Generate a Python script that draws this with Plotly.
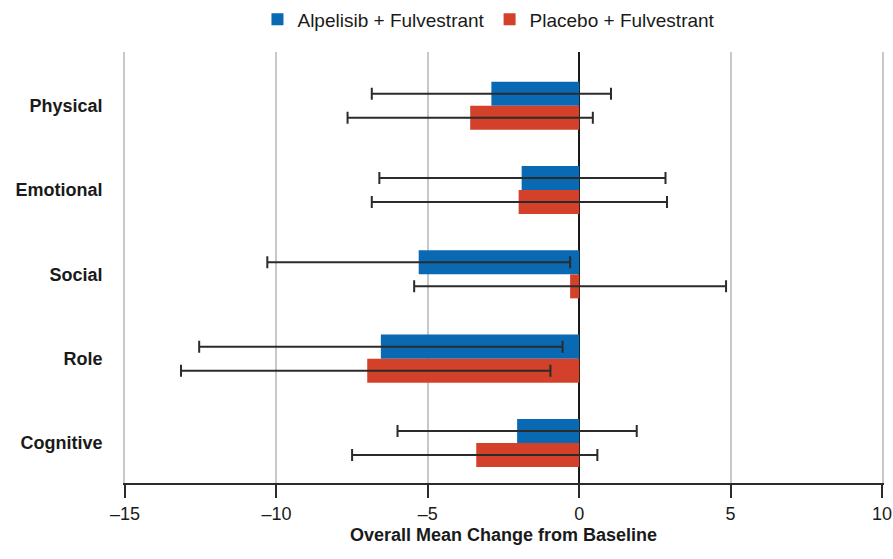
import plotly.graph_objects as go

# Quality-of-life domains (top to bottom)
categories = ["Physical", "Emotional", "Social", "Role", "Cognitive"]

# Alpelisib + Fulvestrant: mean change and 95% CI bounds
alp_mean = [-2.9, -1.9, -5.3, -6.55, -2.05]
alp_low = [-6.85, -6.6, -10.3, -12.55, -6.0]
alp_high = [1.05, 2.85, -0.3, -0.55, 1.9]

# Placebo + Fulvestrant: mean change and 95% CI bounds
pla_mean = [-3.6, -2.0, -0.3, -7.0, -3.4]
pla_low = [-7.65, -6.85, -5.45, -13.15, -7.5]
pla_high = [0.45, 2.9, 4.85, -0.95, 0.6]

x_tickvals = [-15, -10, -5, 0, 5, 10]
x_ticktext = ["\u201315", "\u201310", "\u20135", "0", "5", "10"]

BLUE = "#0a69b3"
RED = "#d4412a"
TEXT = "#1a1a1a"
GRID = "#c8c8cc"
FONT = "Liberation Sans, Arial, sans-serif"


def err(mean, low, high):
    return dict(
        type="data",
        symmetric=False,
        array=[h - m for m, h in zip(mean, high)],
        arrayminus=[m - l for m, l in zip(mean, low)],
        color="#2b2b2b",
        thickness=2,
        width=6,
    )


fig = go.Figure()
fig.add_trace(go.Bar(
    name="Alpelisib + Fulvestrant",
    y=categories, x=alp_mean, orientation="h",
    marker=dict(color=BLUE, line=dict(width=0)),
    error_x=err(alp_mean, alp_low, alp_high),
))
fig.add_trace(go.Bar(
    name="Placebo + Fulvestrant",
    y=categories, x=pla_mean, orientation="h",
    marker=dict(color=RED, line=dict(width=0)),
    error_x=err(pla_mean, pla_low, pla_high),
))

fig.update_layout(
    width=893, height=559,
    margin=dict(l=124.5, r=10.5, t=52, b=76.3, pad=0, autoexpand=False),
    paper_bgcolor="white", plot_bgcolor="white",
    barmode="group", bargap=0.43, bargroupgap=0,
    font=dict(family=FONT, color=TEXT, size=18),
    legend=dict(
        orientation="h",
        x=0.175, xanchor="left",
        y=1.0755, yanchor="middle",
        font=dict(size=19, color=TEXT),
        bgcolor="rgba(0,0,0,0)",
        itemclick=False,
    ),
    xaxis=dict(
        range=[-15, 10],
        tickvals=x_tickvals, ticktext=x_ticktext,
        showgrid=True, gridcolor=GRID, gridwidth=1.6,
        zeroline=True, zerolinecolor="#1a1a1a", zerolinewidth=2,
        showline=True, linecolor="#2b2b2b", linewidth=2,
        ticks="outside", ticklen=13, tickwidth=2, tickcolor="#2b2b2b",
        tickfont=dict(size=18, color=TEXT),
        title=dict(text="<b>Overall Mean Change from Baseline</b>",
                   font=dict(size=18, color=TEXT), standoff=6),
        automargin=False,
        fixedrange=True,
    ),
    yaxis=dict(
        categoryorder="array", categoryarray=categories,
        range=[4.475, -0.637],
        showgrid=False, zeroline=False,
        # grey edge lines at both ends of the x range (-15 and 10)
        showline=True, linecolor=GRID, linewidth=1.6, mirror=True,
        ticks="outside", ticklen=17, tickcolor="rgba(0,0,0,0)",
        tickfont=dict(size=18, color=TEXT),
        tickvals=categories,
        ticktext=["<b>%s</b>" % c for c in categories],
        automargin=False,
        fixedrange=True,
    ),
)

fig.write_html("out.html", config={"displayModeBar": False})
